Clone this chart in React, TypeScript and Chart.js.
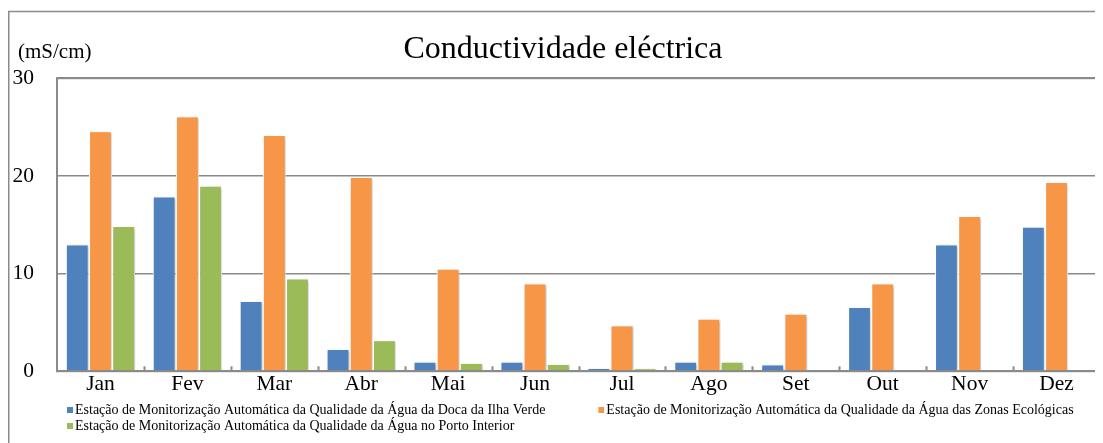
import React, { useEffect, useRef } from 'react';
import { Chart, registerables } from 'chart.js';

Chart.register(...registerables);

const months = ['Jan', 'Fev', 'Mar', 'Abr', 'Mai', 'Jun', 'Jul', 'Ago', 'Set', 'Out', 'Nov', 'Dez'];
const docaIlhaVerde = [13.0, 17.9, 7.2, 2.3, 1.0, 1.0, 0.35, 1.0, 0.7, 6.6, 13.0, 14.8];
const zonasEcologicas = [24.6, 26.1, 24.2, 19.9, 10.5, 9.0, 4.7, 5.4, 5.9, 9.0, 15.9, 19.4];
const portoInterior = [14.9, 19.0, 9.5, 3.2, 0.85, 0.75, 0.3, 1.0, null, null, null, null];
const yTicks = [0, 10, 20, 30];
const seriesNames = [
  'Estação de Monitorização Automática da Qualidade da Água da Doca da Ilha Verde',
  'Estação de Monitorização Automática da Qualidade da Água das Zonas Ecológicas',
  'Estação de Monitorização Automática da Qualidade da Água no Porto Interior',
];
const seriesColors = ['#4F81BD', '#F79646', '#9BBB59'];
const chartTitle = 'Conductividade eléctrica';
const unitLabel = '(mS/cm)';

const FONT = '"Liberation Serif", "Times New Roman", serif';
const GRAY = '#8a8a8a';
const LEGEND_FONT = 14;
const LEGEND_BOX = 52;

function makeSwatch(color: string): HTMLCanvasElement {
  // square sits just before the legend text
  const c = document.createElement('canvas');
  c.width = 62;
  c.height = 6;
  const g = c.getContext('2d')!;
  g.fillStyle = color;
  g.fillRect(56, 0, 6, 6);
  return c;
}

export default function App() {
  const ref = useRef<HTMLCanvasElement | null>(null);

  useEffect(() => {
    document.documentElement.style.overflow = 'hidden';
    document.body.style.overflow = 'hidden';
    const canvas = ref.current!;
    const swatches = seriesColors.map(makeSwatch);

    const decor = {
      id: 'decor',
      afterLayout(chart: any) {
        if (chart.legend) chart.legend.left = 6;
        if (chart.titleBlock) chart.titleBlock.left += 16;
      },
      beforeDraw(chart: any) {
        const ctx = chart.ctx;
        ctx.save();
        ctx.strokeStyle = GRAY;
        ctx.lineWidth = 1.5;
        ctx.beginPath();
        ctx.moveTo(0.75, chart.height);
        ctx.lineTo(0.75, 3.5);
        ctx.lineTo(chart.width, 3.5);
        ctx.stroke();
        ctx.restore();
      },
      beforeDatasetsDraw(chart: any) {
        const ctx = chart.ctx;
        ctx.save();
        ctx.shadowColor = 'rgba(0,0,0,0.28)';
        ctx.shadowBlur = 3;
        ctx.shadowOffsetX = 1.5;
        ctx.shadowOffsetY = 1;
      },
      afterDatasetsDraw(chart: any) {
        const ctx = chart.ctx;
        ctx.restore();
        const { left, right, top, bottom } = chart.chartArea;
        ctx.save();
        ctx.strokeStyle = GRAY;
        ctx.lineWidth = 2;
        ctx.strokeRect(left, top, right - left, bottom - top);
        const xs = chart.scales.x;
        ctx.beginPath();
        for (let i = 1; i < months.length; i++) {
          const px = Math.round((xs.getPixelForTick(i - 1) + xs.getPixelForTick(i)) / 2) + 0.5;
          ctx.moveTo(px, bottom);
          ctx.lineTo(px, bottom - 5);
        }
        ctx.stroke();
        ctx.restore();
      },
      afterDraw(chart: any) {
        const ctx = chart.ctx;
        ctx.save();
        ctx.fillStyle = '#000';
        ctx.font = `21px ${FONT}`;
        ctx.textBaseline = 'middle';
        ctx.textAlign = 'left';
        ctx.fillText(unitLabel, 10, 44);
        ctx.restore();
      },
    };

    const chart = new Chart(canvas, {
      type: 'bar',
      data: {
        labels: months,
        datasets: [
          { label: seriesNames[0], data: docaIlhaVerde, backgroundColor: seriesColors[0] },
          { label: seriesNames[1], data: zonasEcologicas, backgroundColor: seriesColors[1] },
          { label: seriesNames[2], data: portoInterior as any, backgroundColor: seriesColors[2] },
        ].map((d) => ({ ...d, borderColor: '#ffffff', borderWidth: 1.2, borderSkipped: 'bottom' as const })),
      },
      options: {
        responsive: false,
        animation: false,
        devicePixelRatio: 1,
        layout: { padding: { left: 2, right: 3, top: 0, bottom: 0 } },
        datasets: { bar: { categoryPercentage: 0.8, barPercentage: 1 } },
        scales: {
          x: {
            afterFit: (s: any) => { s.height += 4; },
            grid: { display: false, drawTicks: false },
            border: { display: false },
            ticks: { color: '#000', font: { family: FONT, size: 21.5 }, padding: 0 },
          },
          y: {
            min: 0,
            max: 30,
            afterFit: (s: any) => { s.width = 47; },
            afterBuildTicks: (s: any) => { s.ticks = yTicks.map((v) => ({ value: v })); },
            grid: { color: GRAY, lineWidth: 1.5, drawTicks: false },
            border: { display: false },
            ticks: { color: '#000', font: { family: FONT, size: 21.5 }, padding: 23 },
          },
        },
        plugins: {
          title: {
            display: true,
            text: chartTitle,
            color: '#000',
            font: { family: FONT, size: 32, weight: 'normal' },
            padding: { top: 22.5, bottom: 9.3 },
          },
          legend: {
            position: 'bottom',
            align: 'start',
            labels: {
              usePointStyle: true,
              pointStyleWidth: LEGEND_BOX,
              padding: 2,
              color: '#000',
              font: { family: FONT, size: LEGEND_FONT },
              generateLabels: (ch: any) => {
                const items = (Chart.defaults.plugins.legend.labels as any).generateLabels(ch);
                return items.map((it: any, i: number) => ({ ...it, pointStyle: swatches[i], lineWidth: 0 }));
              },
            },
          },
          tooltip: { enabled: false },
        },
      },
      plugins: [decor],
    } as any);

    return () => chart.destroy();
  }, []);

  return (
    <div style={{ width: 1095, height: 435 }}>
      <canvas ref={ref} width={1095} height={435} style={{ display: 'block', width: 1095, height: 435 }} />
    </div>
  );
}
